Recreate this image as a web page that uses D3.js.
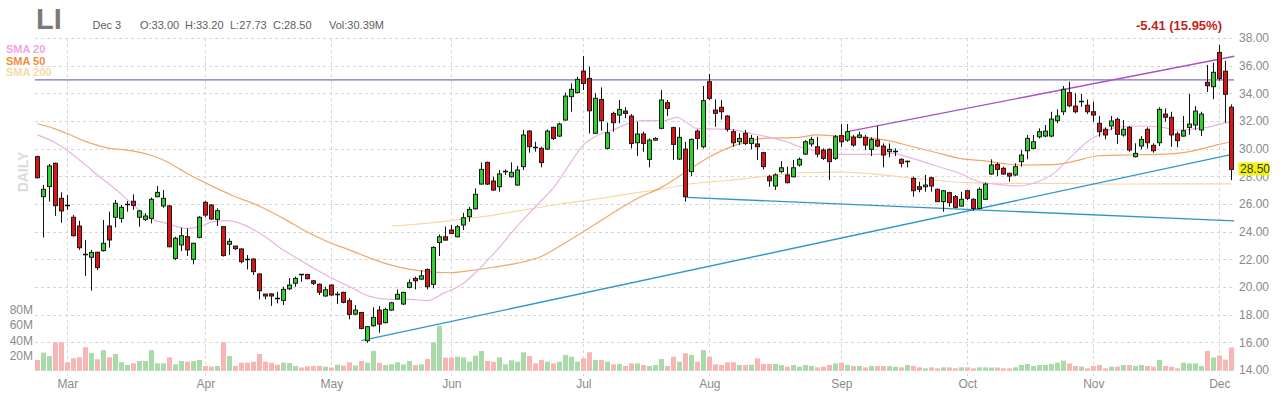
<!DOCTYPE html>
<html><head><meta charset="utf-8">
<script src="https://cdn.jsdelivr.net/npm/d3@7"></script>
<style>body{margin:0;background:#fff}svg{display:block}text{font-family:Arial,"Liberation Sans",Helvetica,sans-serif}</style>
</head><body><svg id="c" width="1280" height="400"></svg>
<script>
const opens=[29.42,26.53,27.26,28.94,26.41,25.95,25.04,24.41,22.42,22.15,22.51,22.63,24.41,25.04,24.96,25.99,26.2,25.04,24.89,24.96,26.53,25.86,25.86,22.07,23.04,23.64,22.0,23.59,26.12,25.93,24.89,24.36,23.09,22.96,22.75,22.03,22.02,20.94,19.49,19.5,19.24,19.03,19.87,20.27,20.93,20.91,20.45,20.2,19.35,20.14,19.46,19.61,19.01,18.04,18.16,16.12,17.2,18.33,17.42,18.33,19.13,18.77,19.97,20.62,20.57,21.27,20.19,23.22,23.63,24.12,23.63,24.48,25.08,25.65,27.44,29.01,27.66,27.25,28.33,27.97,27.37,28.7,31.27,30.15,30.02,29.97,31.54,30.91,32.07,33.76,34.05,35.61,35.08,31.11,33.56,30.02,32.55,32.43,32.72,32.36,30.43,31.06,29.23,30.62,31.47,33.32,31.52,29.25,29.97,28.34,31.27,30.14,34.84,32.79,32.99,32.36,31.23,30.5,31.11,30.38,30.34,29.71,27.97,27.3,28.34,28.1,27.97,28.82,29.61,30.34,30.14,29.9,29.95,29.3,30.94,30.62,30.82,30.82,30.82,29.95,30.62,30.19,29.78,29.84,29.23,29.13,27.85,27.25,27.25,27.9,27.06,26.17,26.82,26.53,25.85,26.96,26.34,25.68,26.34,28.17,28.86,28.58,28.22,28.1,29.06,29.85,30.02,30.86,30.91,30.91,32.02,32.67,34.05,33.08,33.44,33.14,32.67,31.83,31.4,31.64,32.12,30.99,31.54,29.42,30.19,31.4,30.24,30.43,32.5,32.27,31.06,30.91,31.54,31.71,31.35,34.8,34.48,36.96,35.6,33.0];
const highs=[29.5,27.38,28.89,28.99,26.85,26.65,25.2,24.79,23.4,22.68,22.55,24.84,25.45,26.29,25.93,26.22,26.7,25.57,25.33,26.48,27.3,27.01,25.93,23.64,24.29,24.24,23.2,25.13,26.22,25.98,25.69,24.41,23.52,22.96,22.8,22.31,22.07,20.99,19.5,19.55,19.66,20.02,20.63,20.75,20.94,20.94,20.5,20.25,20.02,20.19,19.66,19.66,19.18,18.69,18.2,17.18,18.53,18.62,18.5,18.93,19.83,19.66,20.55,20.75,21.22,21.34,22.95,23.8,24.36,24.48,24.48,25.37,25.8,27.13,28.99,29.06,27.97,28.46,28.5,29.01,28.75,31.35,31.35,30.5,30.14,31.4,31.59,31.88,34.05,34.72,35.2,36.7,35.93,34.0,34.43,31.88,32.67,33.52,33.0,32.5,31.95,31.23,30.74,30.82,34.24,33.52,31.59,31.54,30.5,30.74,31.4,34.53,35.4,33.56,33.52,32.43,31.4,31.11,31.35,30.99,30.91,29.78,28.1,28.22,29.11,28.7,29.18,29.37,30.62,30.86,30.86,30.02,30.02,30.99,31.78,31.78,30.99,31.23,30.99,30.82,31.64,30.38,30.38,30.02,29.3,29.14,27.97,27.61,28.1,27.97,27.13,27.01,26.89,26.65,26.89,27.01,26.41,27.2,27.54,29.23,28.99,28.7,28.26,28.94,29.9,30.99,30.99,31.47,31.71,32.67,32.84,34.53,34.84,34.0,33.95,33.56,33.4,32.36,31.54,32.36,32.26,32.07,31.64,30.39,30.91,31.54,30.39,32.99,32.91,32.67,31.23,32.36,33.95,33.08,32.67,36.05,36.22,37.49,36.36,33.2];
const lows=[27.85,23.57,26.17,25.14,24.65,25.57,23.64,22.68,20.8,19.74,21.23,22.56,22.84,24.31,24.65,25.45,25.57,24.36,24.77,24.6,26.48,25.73,22.87,21.95,22.6,22.24,21.64,23.52,25.04,24.84,24.41,22.2,22.31,22.68,21.71,21.27,20.87,19.11,19.11,18.63,18.82,18.7,19.78,20.02,20.38,20.55,20.14,19.42,19.3,19.37,18.77,18.82,17.66,17.97,16.93,15.97,17.13,16.69,17.37,18.28,19.1,18.7,19.9,19.83,20.5,19.83,19.9,22.24,23.35,23.82,23.58,24.12,24.72,25.6,27.4,27.37,26.96,26.89,28.1,27.92,27.32,28.46,29.71,29.78,28.65,29.9,30.62,30.86,32.02,32.67,34.0,34.24,31.11,31.06,31.3,29.95,31.23,31.83,32.2,30.02,29.47,29.78,28.65,30.57,31.4,32.36,29.18,29.18,26.17,28.02,29.95,30.02,33.52,31.59,32.1,31.23,30.14,30.26,30.26,29.95,29.18,28.5,27.25,27.01,28.22,27.49,27.92,28.7,29.54,30.14,29.37,29.18,27.73,29.18,30.14,30.5,30.14,30.74,29.9,29.47,30.1,28.65,29.37,29.47,28.65,28.65,26.53,26.85,26.89,26.89,26.17,25.44,25.8,25.68,25.8,26.29,25.52,25.61,26.29,28.1,28.02,28.1,27.61,28.02,28.7,29.23,29.95,30.74,30.82,30.82,31.83,32.43,33.0,32.55,33.03,32.5,31.95,30.87,30.67,31.35,30.34,30.87,29.78,29.37,29.95,30.02,29.71,30.19,31.95,30.14,30.1,30.87,31.0,31.35,30.91,34.1,33.57,34.92,31.88,27.73];
const closes=[27.9,27.06,28.75,25.88,25.5,25.92,23.71,22.84,22.4,22.5,21.4,23.16,23.4,26.05,25.76,26.01,25.9,25.5,25.13,26.34,26.84,26.41,22.91,23.52,23.71,22.68,23.16,25.04,25.2,24.92,25.52,22.27,23.3,22.77,21.83,22.01,21.11,19.73,19.35,19.35,19.22,19.83,20.14,20.62,20.91,20.6,20.27,19.62,19.8,19.42,19.48,18.89,18.02,18.33,17.0,17.13,17.8,17.32,18.38,18.86,19.47,19.61,20.31,20.45,20.81,20.02,22.86,23.63,23.39,23.87,24.36,25.01,25.61,26.7,28.5,27.44,27.01,28.17,28.35,28.29,28.46,30.99,30.14,30.13,28.99,31.27,30.74,31.78,33.8,34.29,35.01,34.72,32.74,33.64,32.02,31.15,31.88,32.84,32.55,30.38,31.06,30.38,30.62,30.74,33.52,32.91,30.31,30.82,26.53,30.67,30.74,33.47,33.64,32.55,32.67,31.4,30.43,30.74,30.38,30.74,30.14,28.7,27.68,28.1,28.62,27.54,28.62,29.23,30.5,30.67,29.61,29.3,29.06,30.86,30.5,31.23,30.26,30.99,30.26,30.67,30.19,29.54,29.95,29.86,28.94,29.13,26.96,27.06,27.37,27.3,26.17,26.96,26.1,25.76,26.34,26.41,25.68,27.06,27.44,28.82,28.5,28.17,28.02,28.7,29.54,30.74,30.5,31.23,31.27,32.14,32.36,34.29,33.1,32.67,33.46,32.67,32.43,31.23,30.99,32.0,31.04,31.4,29.9,29.66,30.67,30.43,29.85,32.84,32.27,30.99,30.58,31.3,31.78,32.72,32.5,34.55,35.52,35.08,33.93,28.5];
const volumes=[14,23.7,19.3,37.3,37.3,11,16.3,17.6,30.8,23,15,27,17.6,21.9,11,7.5,9.7,12.7,12.7,27,9.7,9.7,17.6,8.4,12.7,11.8,12.7,14,6.2,5.3,6.2,37.3,19.3,6.2,10.5,10.5,11.8,21.9,11.8,10.5,8,10.5,10,6,4.2,5.8,6.1,6.4,5.3,4.2,7.9,6.8,11,6.8,12.7,10.5,26,10.3,7.5,8.4,11,8.3,12.7,7.5,8.3,15.4,37.3,58.8,17.1,17.1,18.4,17.5,11.8,19.7,25.9,12.7,11.8,17.5,8.3,13.6,11.8,24.1,19.3,9.6,14,11.8,9.6,11.8,20.6,18.4,11.8,16.2,24.1,14,14,11.8,8.3,8.8,6.1,9.6,9.6,7.5,6.1,7.5,15.4,6.1,18.4,11.8,22.8,20.6,11.8,27.2,18.4,8.3,7.5,11,11,7.5,7.5,7.9,16.2,8.8,8.8,8.8,7.5,5.3,7.5,5.3,7.5,6.1,4.4,5.3,7.5,9.6,10.5,7.5,6.1,6.1,4.4,6.1,6.1,6.1,6.1,5.3,4.4,7.5,6.1,4.4,3.1,4.4,3.1,4.4,4.4,3.1,4.4,4.4,3.1,4.4,4.4,4.2,4.2,3.1,3.1,4.4,7.5,8.8,6.1,7.5,7.5,8.8,10.5,13.2,9.6,6.1,5.3,3.1,6.1,7.5,3.1,5.3,5.3,7.5,7.5,6.1,7.5,6.1,5.3,14,6.1,5.3,3.1,10.5,9.6,9.6,6.1,26,17.3,20,14.5,30.39];
const monthLabels=["Mar","Apr","May","Jun","Jul","Aug","Sep","Oct","Nov","Dec"];
const monthIdx=[5,28,49,69,91,112,134,155,176,197];
const priceTicks=[14,16,18,20,22,24,26,28,30,32,34,36,38];
const volTicks=[20,40,60,80];
const sma20Idx=[0,3.2,4.9,7.7,10.5,13.2,16,18.8,21.6,24.9,27.1,29.3,31.6,33.8,37.1,41,43.8,46.6,48.8,52.1,55.5,58.8,62.1,64.9,67.7,71,73.2,76.6,79.9,83.3,86.6,88.8,91,93.2,96.6,98.8,101,104.3,106.6,109.9,113.2,115.5,118.2,121.5,124.9,127,129.3,132.6,134.9,139.3,142.6,144.8,149.3,153.7,157,160.4,163.7,166,169.5,172,175,177.5,179.8,183.7,187.6,189.9,192.1,194.9,197.7,199];
const sma20Val=[31.0,30.38,29.9,28.94,27.93,27.01,25.93,24.96,24.6,24.24,24.36,24.72,24.8,24.6,23.88,22.67,21.95,21.23,20.7,20.02,19.3,19.11,19.11,19.01,19.54,20.26,21.11,22.67,24.36,25.93,27.49,28.94,30.26,30.91,31.47,31.88,32.02,32.02,32.26,31.47,31.42,31.4,31.16,30.87,30.5,30.14,29.9,29.61,29.59,29.59,29.66,29.42,28.82,28.22,27.61,27.4,27.3,27.5,28.25,29.3,30.5,31.1,31.54,31.64,31.54,31.35,31.4,31.54,31.83,31.95];
const sma50Idx=[0,2.7,4.9,7.7,12.1,14.9,18.8,21.6,24.9,28.2,32.7,36.6,41,44.9,48.8,52.1,56,59.9,64.3,68.8,72.1,76.6,79.9,84,88,91,95,100,104,108,112,116,121,127,129.8,133.7,138.2,141.5,145.9,149.3,153.7,158.2,161.5,164.3,169.3,173.2,176.6,181,186.6,189.9,193.2,196.6,199];
const sma50Val=[31.8,31.47,31.11,30.58,30.02,29.9,29.54,29.06,28.22,27.49,26.58,25.93,24.96,24.0,23.2,22.67,22.0,21.47,21.15,21.03,21.18,21.47,21.71,22.2,23.2,24.0,25.1,26.4,27.2,28.3,29.4,30.2,30.75,30.82,30.99,30.91,30.82,30.62,30.14,29.78,29.3,29.1,28.89,28.82,28.85,29.13,29.47,29.54,29.59,29.66,29.9,30.27,30.5];
const sma200Idx=[59,64.9,70.5,76.1,81.6,87.2,92.7,98.3,103.8,109.4,115,121.5,127,133.7,138.2,143.7,149.3,154.8,160.4,165.9,171.5,177,188,199];
const sma200Val=[24.41,24.6,24.89,25.2,25.61,26.0,26.33,26.72,27.06,27.49,27.7,28.02,28.26,28.31,28.22,27.97,27.73,27.54,27.49,27.49,27.49,27.44,27.45,27.45];
const levelLine=[34.97];
const violetIdx=[135,199.5], violetVal=[31.23,36.68];
const supportIdx=[54,199.5], supportVal=[16.12,29.62];
const declineIdx=[108.2,199.5], declineVal=[26.48,24.78];
const header={ticker:"LI",date:"Dec 3",o:"33.00",h:"33.20",l:"27.73",c:"28.50",vol:"30.39M",chg:"-5.41 (15.95%)",last:"28.50"};

const svg=d3.select("#c");
svg.append("rect").attr("width",1280).attr("height",400).attr("fill","#fff");
const x=d3.scaleLinear().domain([0,199]).range([37.3,1231.3]);
const y=d3.scaleLinear().domain([14,38]).range([370,38]);
const yv=d3.scaleLinear().domain([0,80]).range([370.7,309.7]);
const X0=35,X1=1234;
const grid=svg.append("g").attr("stroke","#d6d6d6").attr("stroke-dasharray","3,3").attr("stroke-width",1);
grid.selectAll("line.h").data(priceTicks).join("line").attr("class","h")
 .attr("x1",X0).attr("x2",X1).attr("y1",d=>Math.round(y(d))+0.5).attr("y2",d=>Math.round(y(d))+0.5);
grid.selectAll("line.v").data(monthIdx).join("line").attr("class","v")
 .attr("x1",d=>Math.round(x(d))+0.5).attr("x2",d=>Math.round(x(d))+0.5).attr("y1",38).attr("y2",376);

// axes
const ay=svg.append("g").attr("transform","translate(1236,0)")
 .call(d3.axisRight(y).tickValues(priceTicks).tickFormat(d3.format(".2f")).tickSize(0).tickPadding(3));
ay.select(".domain").remove();
ay.selectAll("text").attr("font-size",12).attr("fill","#8a8a8a").attr("font-family","Arial,'Liberation Sans',sans-serif");
const av=svg.append("g").attr("transform","translate(36,0)")
 .call(d3.axisLeft(yv).tickValues(volTicks).tickFormat(d=>d+"M").tickSize(0).tickPadding(3));
av.select(".domain").remove();
av.selectAll("text").attr("font-size",12).attr("fill","#8a8a8a").attr("font-family","Arial,'Liberation Sans',sans-serif");
const ax=svg.append("g").attr("transform","translate(0,375)")
 .call(d3.axisBottom(x).tickValues(monthIdx).tickFormat((d,i)=>monthLabels[i]).tickSize(0).tickPadding(4));
ax.select(".domain").remove();
ax.selectAll("text").attr("font-size",12).attr("fill","#8a8a8a").attr("font-family","Arial,'Liberation Sans',sans-serif");

// volume
const idx=d3.range(opens.length);
svg.append("g").selectAll("rect").data(idx).join("rect")
 .attr("x",i=>Math.round(x(i))-2).attr("width",5)
 .attr("y",i=>yv(volumes[i])).attr("height",i=>yv(0)-yv(volumes[i]))
 .attr("fill",i=>closes[i]>=opens[i]?"#a8dba8":"#f7b5b5");

// SMA lines
const sl=(ix,vals)=>d3.line().x((d,i)=>x(ix[i])).y(d=>y(d)).curve(d3.curveMonotoneX)(vals);
svg.append("path").attr("d",sl(sma200Idx,sma200Val)).attr("fill","none").attr("stroke","#f6d9a8").attr("stroke-width",1.2);
svg.append("path").attr("d",sl(sma50Idx,sma50Val)).attr("fill","none").attr("stroke","#f2a66a").attr("stroke-width",1.2);
svg.append("path").attr("d",sl(sma20Idx,sma20Val)).attr("fill","none").attr("stroke","#e9b3e3").attr("stroke-width",1.2);

// trend lines
svg.append("line").attr("x1",X0).attr("x2",X1).attr("y1",y(levelLine[0])).attr("y2",y(levelLine[0])).attr("stroke","#7b70c2").attr("stroke-width",1.2);
const tl=(ix,vals,col)=>svg.append("line").attr("x1",x(ix[0])).attr("y1",y(vals[0])).attr("x2",x(ix[1])).attr("y2",y(vals[1])).attr("stroke",col).attr("stroke-width",1.4);
tl(violetIdx,violetVal,"#a652c8");
tl(supportIdx,supportVal,"#2f96c9");
tl(declineIdx,declineVal,"#2f96c9");

// candles
const cg=svg.append("g");
idx.forEach(i=>{
 const cx=Math.round(x(i));
 cg.append("line").attr("x1",cx+0.5).attr("x2",cx+0.5).attr("y1",y(highs[i])).attr("y2",y(lows[i])).attr("stroke","#111").attr("stroke-width",1);
 const yo=y(opens[i]),yc=y(closes[i]);
 const top=Math.min(yo,yc),h=Math.abs(yo-yc);
 if(h<1.6){
  cg.append("line").attr("x1",cx-2).attr("x2",cx+3).attr("y1",Math.round(top)+0.5).attr("y2",Math.round(top)+0.5).attr("stroke","#111").attr("stroke-width",1.5);
 } else {
  cg.append("rect").attr("x",cx-1.5).attr("width",4).attr("y",top).attr("height",h)
   .attr("fill",closes[i]>=opens[i]?"#2fd12f":"#dc1414").attr("stroke","#1a1a1a").attr("stroke-width",1);
 }
});

// texts
svg.append("text").attr("x",36).attr("y",29).attr("font-size",29).attr("font-weight","bold").attr("fill","#7a7a7a").text(header.ticker);
const ht=[[92.5,header.date],[140,"O:"+header.o],[185,"H:"+header.h],[230,"L:"+header.l],[273,"C:"+header.c],[329,"Vol:"+header.vol]];
svg.append("g").selectAll("text").data(ht).join("text").attr("x",d=>d[0]).attr("y",29).attr("font-size",11).attr("fill","#606060").text(d=>d[1]);
svg.append("text").attr("x",1222).attr("y",30).attr("text-anchor","end").attr("font-size",13).attr("font-weight","bold").attr("fill","#c41f1f").text(header.chg);
const leg=[["SMA 20","#f2a5e0",53],["SMA 50","#f28c3c",65],["SMA 200","#f3dba5",76]];
svg.append("g").selectAll("text").data(leg).join("text").attr("x",6).attr("y",d=>d[2]).attr("font-size",11).attr("font-weight","bold").attr("fill",d=>d[1]).text(d=>d[0]);
svg.append("text").attr("transform","translate(28,172) rotate(-90)").attr("text-anchor","middle").attr("font-size",14).attr("font-weight","bold").attr("fill","#dadada").text("DAILY");
const ly=y(+header.last);
svg.append("rect").attr("x",1238.5).attr("y",ly-7).attr("width",31).attr("height",13).attr("fill","#f4f40a");
svg.append("text").attr("x",1240).attr("y",ly+4).attr("font-size",12).attr("fill","#333").text(header.last);
</script></body></html>
